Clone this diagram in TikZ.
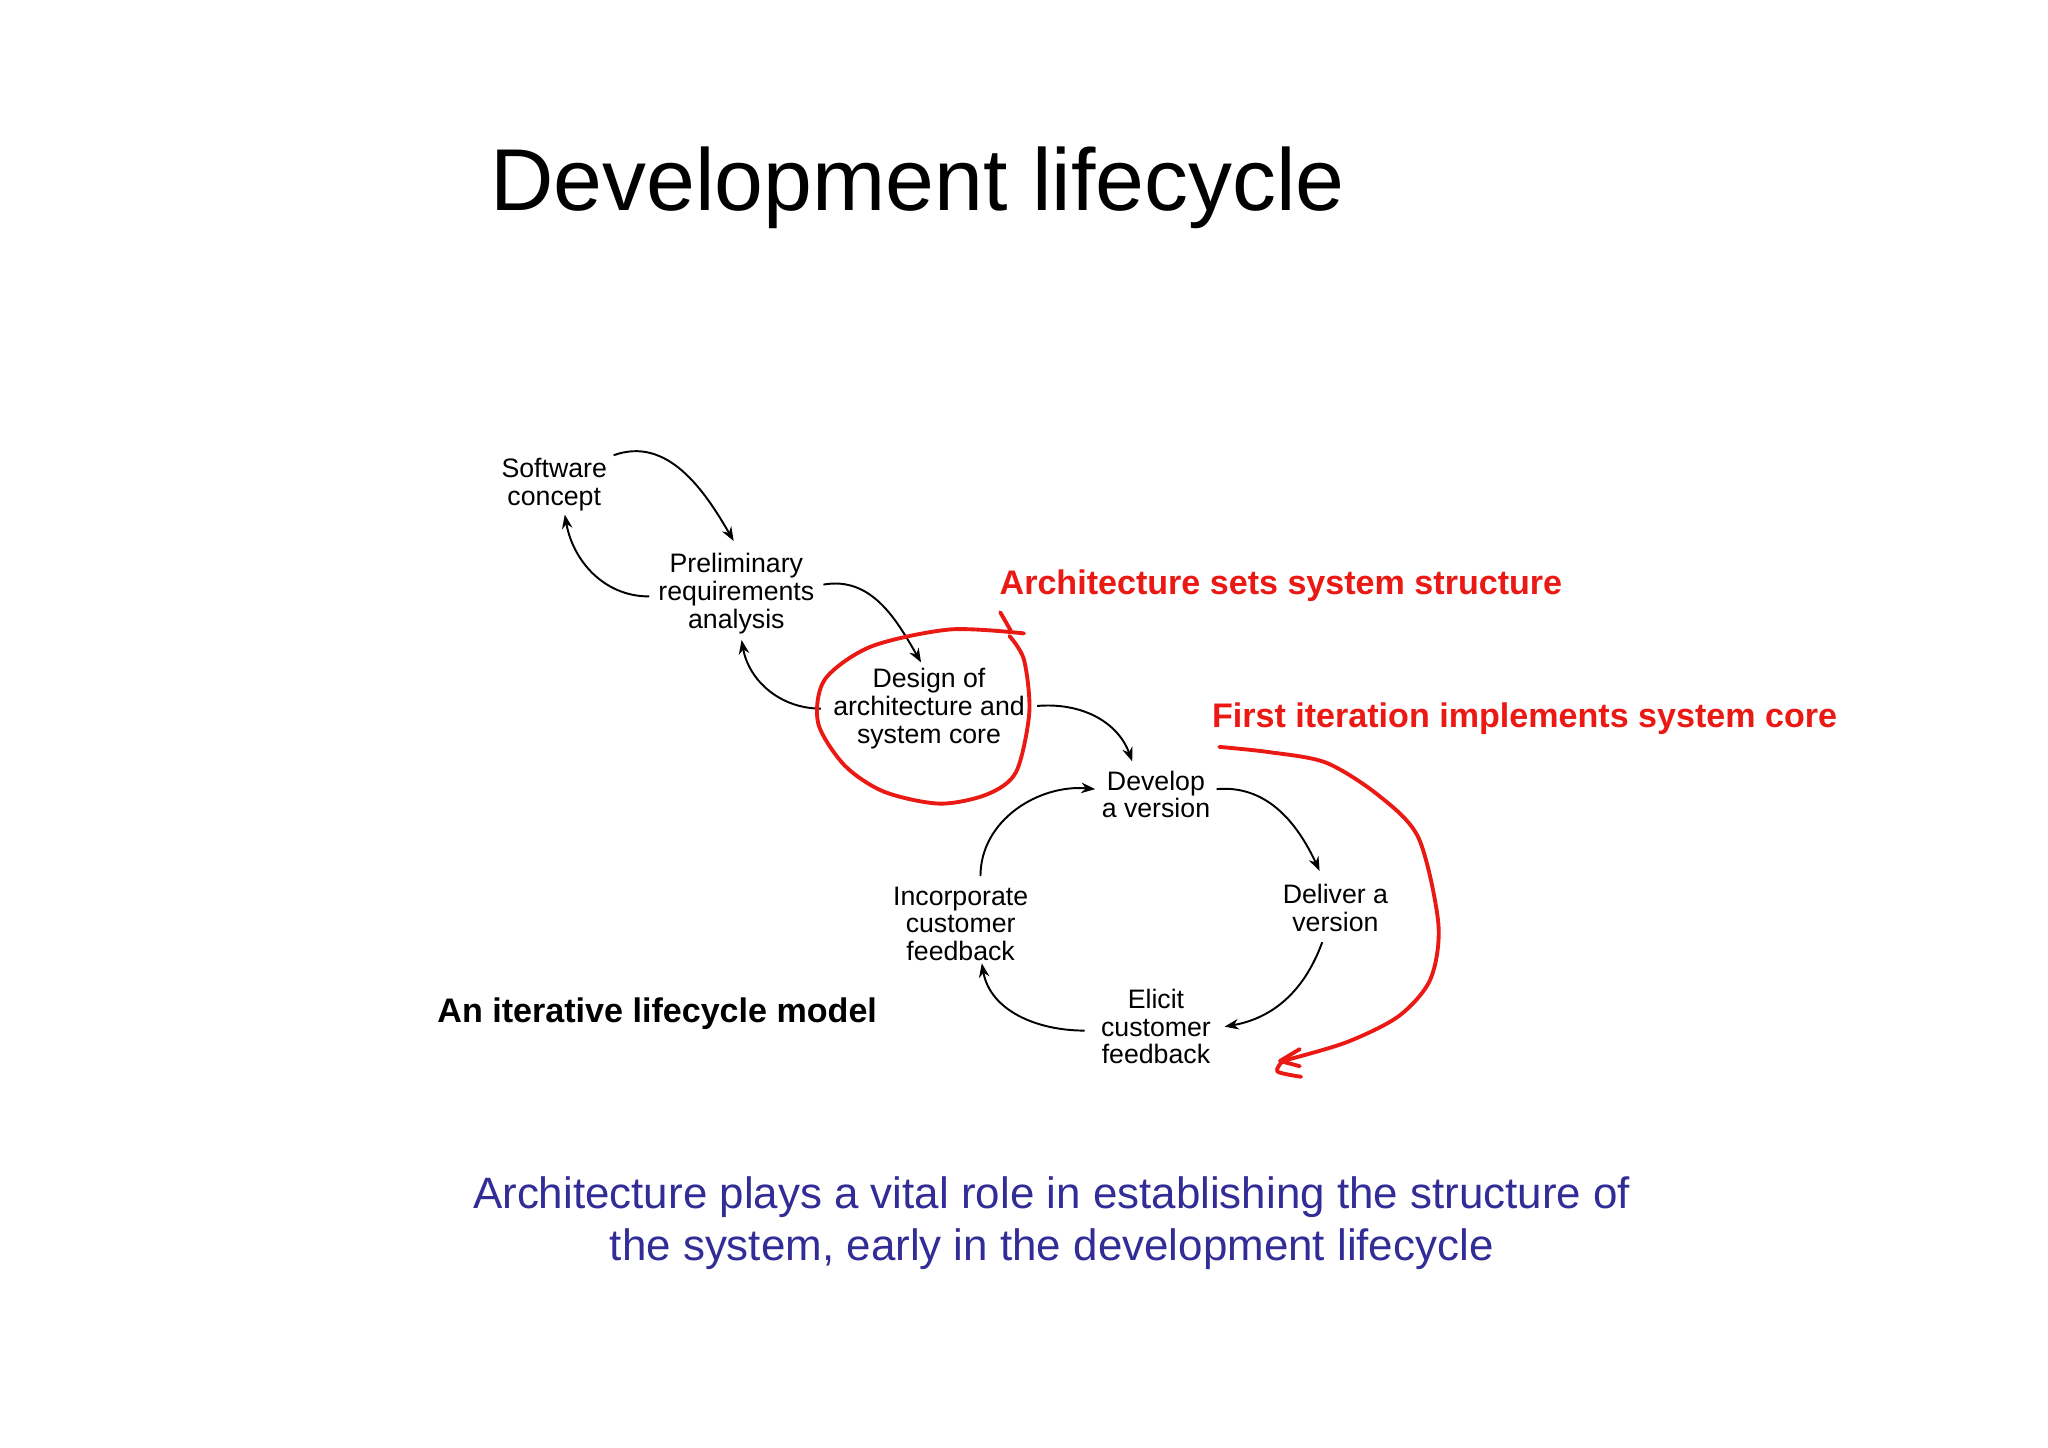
\documentclass[tikz,border=0pt]{standalone}
\usepackage{fontspec}
\setmainfont{Liberation Sans}
\usetikzlibrary{arrows.meta}
\definecolor{annred}{RGB}{235,25,20}
\definecolor{msgblue}{RGB}{50,45,150}
\begin{document}
\begin{tikzpicture}[x=0.013196cm,y=-0.013196cm,
  lbl/.style={align=center,font=\fontsize{7.6}{7.9}\selectfont,inner sep=0pt},
  flow/.style={line width=0.55pt,-{Stealth[length=4pt,width=3pt]}},
  redtxt/.style={font=\fontsize{9.7}{11}\selectfont\bfseries,text=annred,anchor=west,inner sep=0pt},
  redline/.style={draw=annred,line width=1.1pt,line cap=round,line join=round}]
\path[use as bounding box,fill=white] (0,0) rectangle (1552,1097);
\node[anchor=west,inner sep=0pt,font=\fontsize{25}{30}\selectfont] (title) at (371,142) {Development lifecycle};
\node[lbl] (sc) at (420,367) {Software\\concept};
\node[lbl] (pr) at (558,450) {Preliminary\\requirements\\analysis};
\node[lbl] (de) at (704,537) {Design of\\architecture and\\system core};
\node[lbl] (dv) at (876,602) {Develop\\a version};
\node[lbl] (dl) at (1012,688) {Deliver a\\version};
\node[lbl] (el) at (876,778) {Elicit\\customer\\feedback};
\node[lbl] (in) at (728,700) {Incorporate\\customer\\feedback};
\draw[flow] ([shift={(45,-22)}]sc.center) to[out=20,in=120] ([shift={(-2,-40)}]pr.center);
\draw[flow] ([shift={(-66,2)}]pr.center) to[out=180,in=-80] ([shift={(8,23)}]sc.center);
\draw[flow] ([shift={(66,-7)}]pr.center) to[out=10,in=120] ([shift={(-6,-35)}]de.center);
\draw[flow] ([shift={(-82,0)}]de.center) to[out=180,in=-80] ([shift={(4,35)}]pr.center);
\draw[flow] ([shift={(82,-2)}]de.center) to[out=5,in=110] ([shift={(-18,-25)}]dv.center);
\draw[flow] ([shift={(46,-4)}]dv.center) to[out=5,in=115] ([shift={(-12,-28)}]dl.center);
\draw[flow] ([shift={(-10,26)}]dl.center) to[out=-110,in=10] ([shift={(52,0)}]el.center);
\draw[flow] ([shift={(-54,3)}]el.center) to[out=180,in=-80] ([shift={(16,30)}]in.center);
\draw[flow] ([shift={(15,-36)}]in.center) to[out=90,in=175] ([shift={(-46,-4)}]dv.center);
\node[redtxt] (r1) at (757,444) {Architecture sets system structure};
\node[redtxt] (r2) at (918,545) {First iteration implements system core};
\node[anchor=west,inner sep=0pt,font=\fontsize{9.7}{11}\selectfont\bfseries] (it) at (331,768) {An iterative lifecycle model};
\draw[redline] plot[smooth] coordinates {(758,464) (766,478)};
\draw[redline] plot[smooth] coordinates {(776,480) (720,477) (660,490) (625,515) (620,548) (640,580) (670,600) (712,609) (748,602) (770,585) (780,540) (776,500) (765,482)};
\draw[redline] plot[smooth] coordinates {(924,566) (962,570) (1005,578) (1045,603) (1075,635) (1090,700) (1084,742) (1060,770) (1020,790) (972,804)};
\draw[redline] (985,795) -- (970,804) -- (985,808);
\draw[redline] plot[smooth] coordinates {(972,804) (968,812) (986,816)};
\node[align=center,inner sep=0pt,text=msgblue,font=\fontsize{12.5}{15}\selectfont] (msg) at (797,927) {Architecture plays a vital role in establishing the structure of\\the system, early in the development lifecycle};
\end{tikzpicture}
\end{document}
